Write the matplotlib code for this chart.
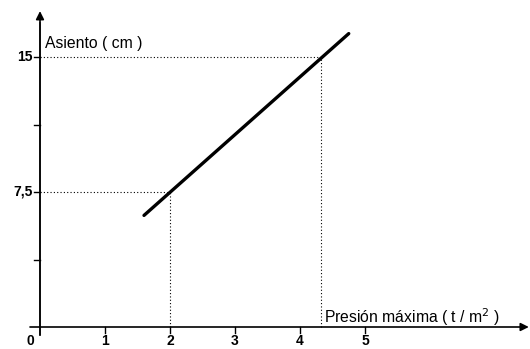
import matplotlib.pyplot as plt

# data
presion = [1.6, 4.75]
asiento = [6.2, 16.3]
x_ticks = [1, 2, 3, 4, 5]
y_ticks = [3.75, 7.5, 11.25, 15]
y_labels = {7.5: '7,5', 15: '15'}
guides = [(2.0, 7.5), (4.33, 15.0)]

px_x = 65.0   # pixels per x unit
px_y = 18.0   # pixels per y unit
ox, oy = 40, 22  # origin in pixels from left / bottom

fig = plt.figure(figsize=(5.3, 3.49), dpi=100)
ax = fig.add_axes([0, 0, 1, 1])
ax.set_xlim(-ox / px_x, (530 - ox) / px_x)
ax.set_ylim(-oy / px_y, (349 - oy) / px_y)
ax.axis('off')

axis_col = '#444444'
font = dict(family='Liberation Sans', size=11.3)
tick_font = dict(family='Liberation Sans', size=10, fontweight='bold')

# axes with arrows
ax.annotate('', xy=(7.52, 0), xytext=(-10 / px_x, 0),
            arrowprops=dict(arrowstyle='-|>', color='black', lw=1.2,
                            mutation_scale=12, shrinkA=0, shrinkB=0))
ax.annotate('', xy=(0, 17.55), xytext=(0, -8 / px_y),
            arrowprops=dict(arrowstyle='-|>', color='black', lw=1.2,
                            mutation_scale=12, shrinkA=0, shrinkB=0))
ax.plot([0, 0], [-8 / px_y, 16.9], color=axis_col, lw=1.3)

# ticks
for t in x_ticks:
    ax.plot([t, t], [0, -6 / px_y], color='black', lw=1)
    ax.text(t, -14 / px_y, str(t), ha='center', va='center', **tick_font)
ax.text(-10 / px_x, -14 / px_y, '0', ha='center', va='center', **tick_font)
for t in y_ticks:
    ax.plot([0, -6 / px_x], [t, t], color='black', lw=1)
    if t in y_labels:
        ax.text(-7 / px_x, t, y_labels[t], ha='right', va='center',
                **tick_font)

# dotted guides
for gx, gy in guides:
    ax.plot([0, gx], [gy, gy], color='black', lw=0.8, ls=(0, (1, 2)))
    ax.plot([gx, gx], [0, gy], color='black', lw=0.8, ls=(0, (1, 2)))

# data line
ax.plot(presion, asiento, color='black', lw=2.4, solid_capstyle='round')

ax.text(5 / px_x, 15.75, 'Asiento ( cm )', ha='left', va='center', **font)
ax.text(4.37, 0.55, 'Presión máxima ( t / m$^2$ )', ha='left', va='center',
        **font)

fig.savefig('out.png', dpi=100)
